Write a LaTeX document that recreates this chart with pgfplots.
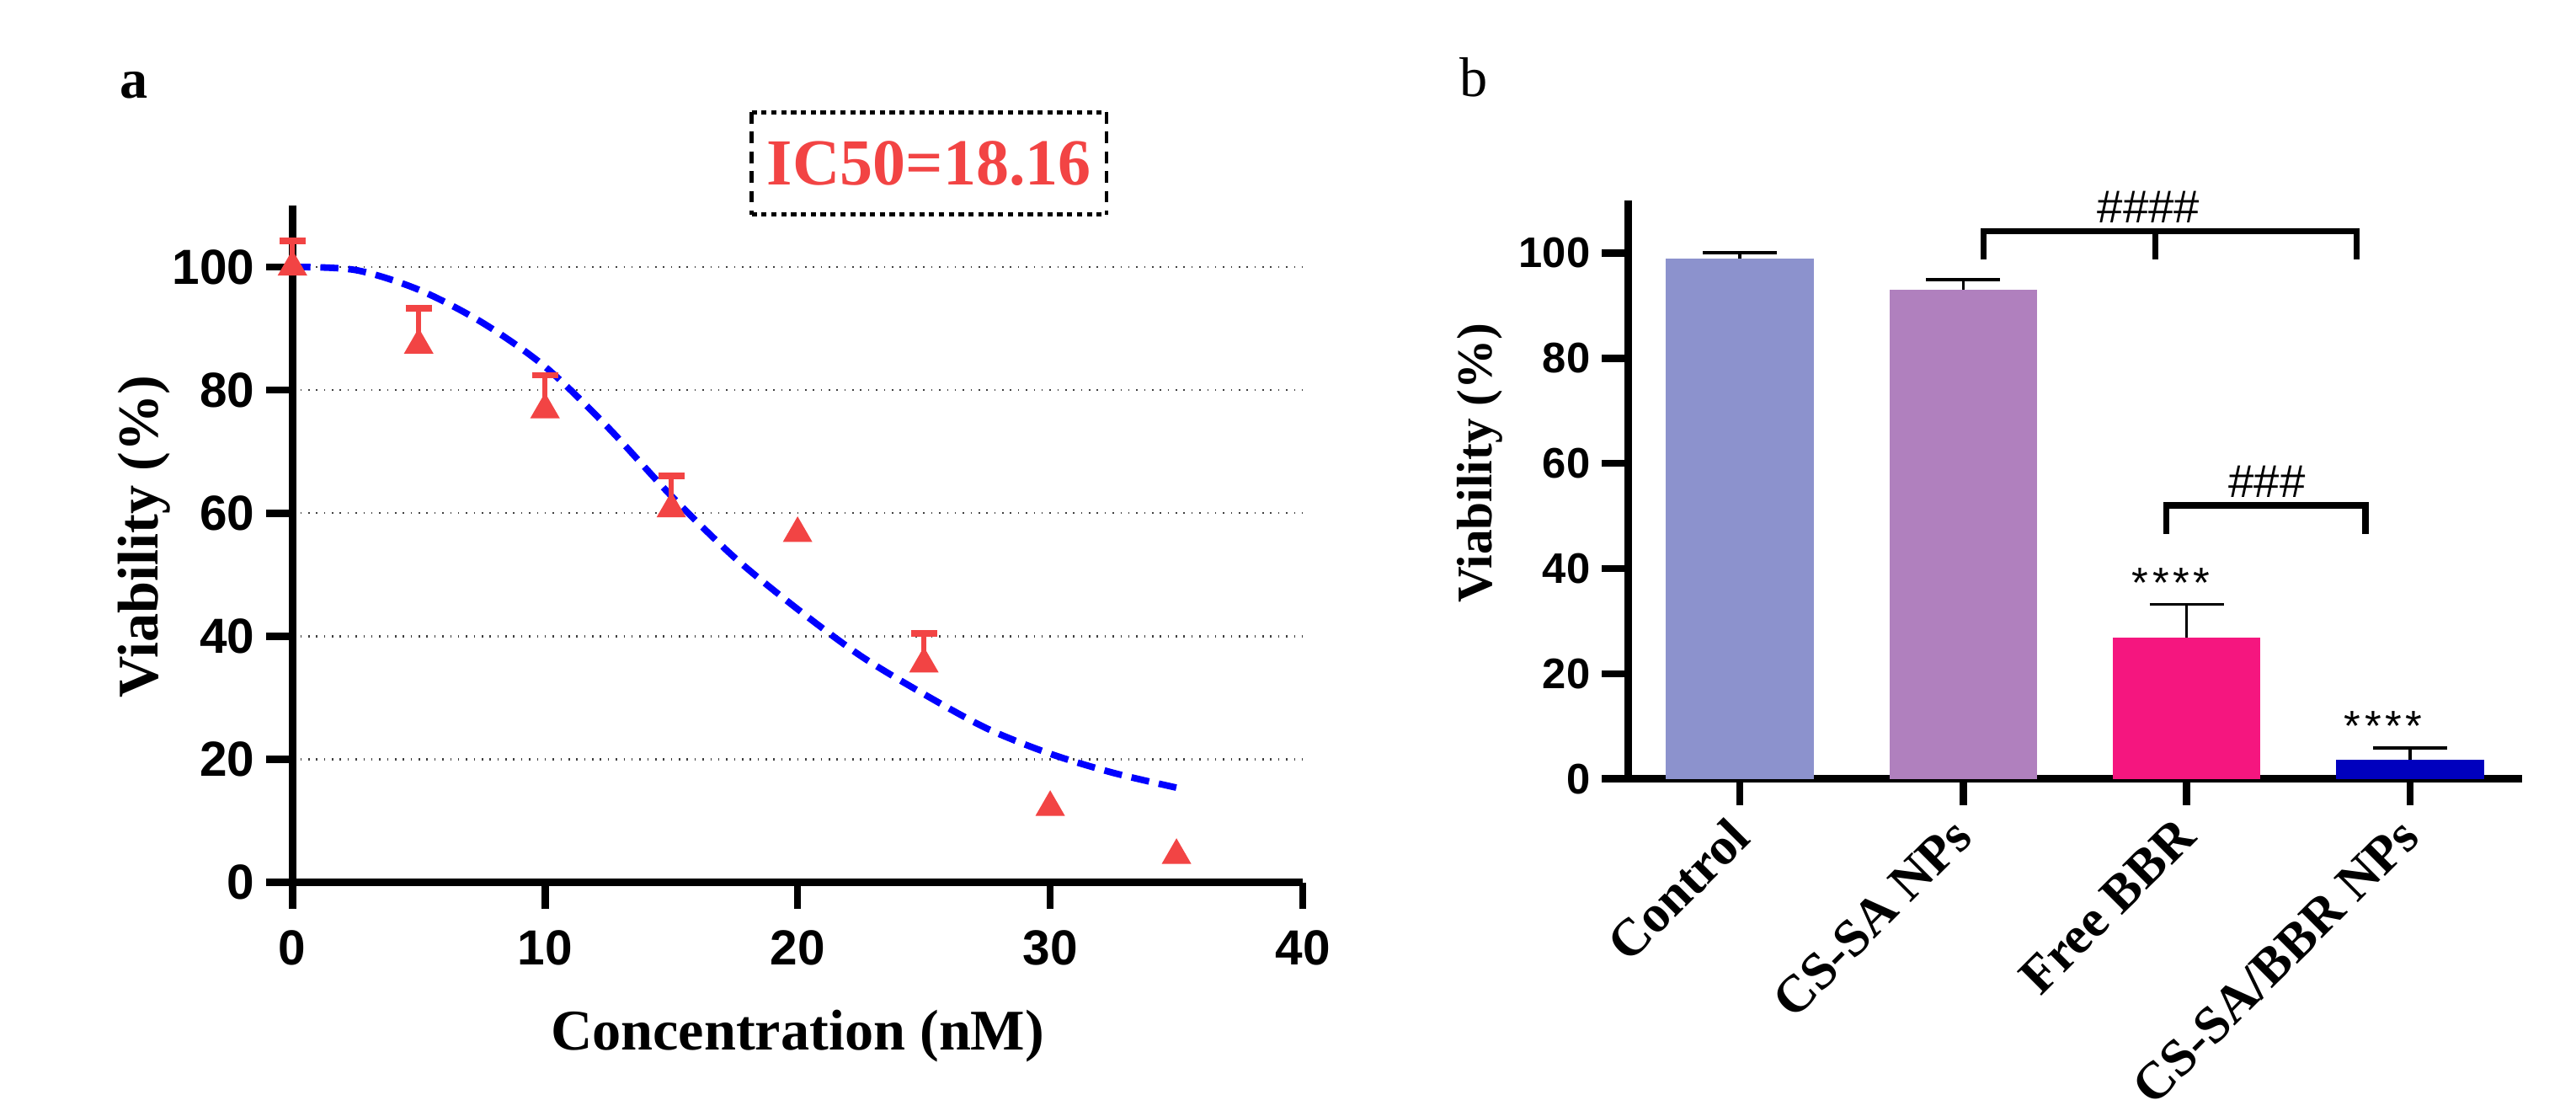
\documentclass[border=0pt]{standalone}
\usepackage{fontspec}
\setmainfont{Liberation Serif}
\setsansfont{Liberation Sans}
\usepackage{pgfplots}
\usepackage{pgfplotstable}
\pgfplotsset{compat=1.18}

\definecolor{ptred}{RGB}{242,68,68}
\definecolor{fitblue}{RGB}{0,0,255}
\definecolor{barA}{RGB}{140,146,205}
\definecolor{barB}{RGB}{176,128,190}
\definecolor{barC}{RGB}{245,22,127}
\definecolor{barD}{RGB}{0,0,190}

\newfontfamily\sigfont[LetterSpace=9]{Liberation Sans}

% viability vs concentration, points with upper SD
\pgfplotstableread{
x   y     e
0   100.0 4.2
5   87.3  6.0
10  76.8  5.6
15  60.7  5.4
25  35.5  5.0
}\witherr
\pgfplotstableread{
x   y
20  56.7
30  12.2
35  4.4
}\noerr
% fitted dose-response curve
\pgfplotstableread{
x     y
0     100.0
2.5   99.5
5     96.3
7.5   91.0
10    83.8
12.5  73.9
15    62.8
17.5  52.8
20    44.4
22.5  36.8
25    30.6
27.5  25.0
30    20.9
32.5  17.8
35    15.4
}\fitcurve

\pgfplotsset{
  panel/.style={
    scale only axis,
    axis x line*=bottom, axis y line*=left,
    axis line style={line width=2.2pt},
    tick align=outside, major tick length=8pt,
    tick style={line width=2.2pt, black},
    ymin=0, ymax=110, ytick={0,20,...,100},
    /pgf/number format/assume math mode=true,
    clip=false,
  },
  sdbar/.style={ybar, bar shift=0pt, bar width=45pt, draw=none, fill=#1,
    error bars/.cd, y dir=plus, y explicit,
    error bar style={draw=black, line width=0.8pt},
    error mark options={draw=black, rotate=90, line width=1pt, mark size=11.25pt}},
}

\begin{document}
\begin{tikzpicture}
\path[use as bounding box] (0,0) rectangle (784pt,338pt);

% ---- panel a ----
\begin{axis}[panel,
  at={(89pt,69.5pt)}, anchor=south west,
  width=307.5pt, height=206pt,
  xmin=0, xmax=40, xtick={0,10,...,40},
  ticklabel style={font=\sffamily\bfseries\fontsize{15}{17}\selectfont},
  xticklabel style={yshift=-3pt},
  ymajorgrids, grid style={dotted, line width=0.6pt, black!75},
]
\addplot[fitblue, line width=2pt, dash pattern=on 5.5pt off 3pt, smooth, tension=0.5]
  table[x=x, y=y] {\fitcurve};
\addplot[only marks, mark=triangle*, mark size=4.8pt, color=ptred,
  error bars/.cd, y dir=plus, y explicit,
  error bar style={line width=1.5pt, ptred},
  error mark options={rotate=90, line width=2pt, mark size=4pt, ptred}]
  table[x=x, y=y, y error=e] {\witherr};
\addplot[only marks, mark=triangle*, mark size=4.8pt, color=ptred]
  table[x=x, y=y] {\noerr};
\end{axis}

\node[font=\bfseries\fontsize{17.5}{20}\selectfont] at (242.75pt,22.75pt) {Concentration (nM)};
\node[font=\bfseries\fontsize{17.5}{20}\selectfont, rotate=90] at (43.8pt,174.8pt) {Viability (\%)};
\node[font=\bfseries\fontsize{17}{20}\selectfont] at (40.8pt,312.1pt) {a};
\node[font=\bfseries\fontsize{20}{22}\selectfont, text=ptred, inner sep=0pt] at (282.75pt,288.3pt) {IC50=18.16};
\draw[line width=1.3pt, dash pattern=on 1.6pt off 1.4pt] (228.75pt,303.9pt) -- (336.75pt,303.9pt)
  (228.75pt,272.7pt) -- (336.75pt,272.7pt);
\draw[line width=1.1pt, dash pattern=on 3.5pt off 2.5pt] (228.75pt,303.9pt) -- (228.75pt,272.7pt)
  (336.75pt,303.9pt) -- (336.75pt,272.7pt);

% ---- panel b ----
\begin{axis}[panel,
  at={(495.5pt,101pt)}, anchor=south west,
  width=272pt, height=176pt,
  xmin=-0.5, xmax=3.5, xtick={0,1,2,3},
  xticklabels={Control, CS-SA NPs, Free BBR, CS-SA/BBR NPs},
  yticklabel style={font=\sffamily\bfseries\fontsize{13}{15}\selectfont},
  xticklabel style={xshift=-4pt, yshift=2pt, rotate=45, anchor=north east, font=\bfseries\fontsize{16}{18}\selectfont},
]
\addplot[sdbar=barA] coordinates {(0,98.9) +- (0,1.2)};
\addplot[sdbar=barB] coordinates {(1,93.0) +- (0,2.0)};
\addplot[sdbar=barC] coordinates {(2,26.9) +- (0,6.3)};
\addplot[sdbar=barD] coordinates {(3,3.6) +- (0,2.3)};

% significance brackets
\draw[line width=1.9pt] (axis cs:1.09,98.8) -- (axis cs:1.09,104.2) -- (axis cs:2.76,104.2) -- (axis cs:2.76,98.8);
\draw[line width=1.9pt] (axis cs:1.86,104.2) -- (axis cs:1.86,98.8);
\node[font=\sffamily\fontsize{14}{16}\selectfont] at (axis cs:1.83,108.8) {\#\#\#\#};
\draw[line width=1.9pt] (axis cs:1.91,46.6) -- (axis cs:1.91,52) -- (axis cs:2.80,52) -- (axis cs:2.80,46.6);
\node[font=\sffamily\fontsize{14}{16}\selectfont] at (axis cs:2.36,56.6) {\#\#\#};
\node[font=\sigfont\fontsize{13}{15}\selectfont, anchor=base, yshift=-7.4pt] at (axis cs:1.93,39.1) {****};
\node[font=\sigfont\fontsize{13}{15}\selectfont, anchor=base, yshift=-7.4pt] at (axis cs:2.88,11.9) {****};
\end{axis}

\node[font=\bfseries\fontsize{15.2}{18}\selectfont, rotate=90] at (450.3pt,197.1pt) {Viability (\%)};
\node[font=\fontsize{17}{20}\selectfont] at (448.5pt,314.5pt) {b};

\end{tikzpicture}
\end{document}
